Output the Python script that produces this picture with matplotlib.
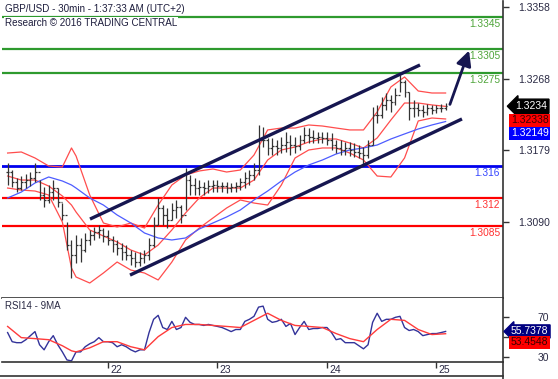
import numpy as np
import matplotlib
matplotlib.use('Agg')
import matplotlib.pyplot as plt
from matplotlib.lines import Line2D
from matplotlib.transforms import ScaledTranslation

plt.rcParams['font.family'] = ['Liberation Sans', 'DejaVu Sans']

# hourly bars, bar 0 = 21st 02:00 (UTC+2)
high = [1.31632, 1.31544, 1.31444, 1.31469, 1.31494, 1.31519, 1.31632, 1.31419, 1.31332, 1.31357,
        1.31419, 1.31319, 1.31132, 1.30895, 1.30671, 1.30733, 1.30696, 1.30758, 1.30796, 1.30833,
        1.30858, 1.30820, 1.30796, 1.30721, 1.30671, 1.30633, 1.30608, 1.30546, 1.30521, 1.30521,
        1.30546, 1.30696, 1.30958, 1.31195, 1.31107, 1.31070, 1.31132, 1.31170, 1.31107, 1.31569,
        1.31482, 1.31444, 1.31419, 1.31394, 1.31419, 1.31419, 1.31419, 1.31394, 1.31394, 1.31382,
        1.31394, 1.31444, 1.31519, 1.31544, 1.31632, 1.32106, 1.32081, 1.31944, 1.31944, 1.31919,
        1.31956, 1.32019, 1.31981, 1.31956, 1.31981, 1.32081, 1.32068, 1.32044, 1.32019, 1.32019,
        1.32019, 1.32006, 1.31919, 1.31919, 1.31894, 1.31894, 1.31881, 1.31856, 1.31831, 1.31919,
        1.32331, 1.32356, 1.32455, 1.32505, 1.32480, 1.32568, 1.32730, 1.32668, 1.32518, 1.32418,
        1.32380, 1.32356, 1.32368, 1.32356, 1.32356, 1.32368, 1.32380]
low = [1.31357, 1.31332, 1.31269, 1.31294, 1.31319, 1.31344, 1.31394, 1.31170, 1.31083, 1.31132,
       1.31170, 1.31083, 1.30920, 1.30546, 1.30197, 1.30384, 1.30396, 1.30521, 1.30608, 1.30671,
       1.30696, 1.30646, 1.30608, 1.30521, 1.30484, 1.30421, 1.30421, 1.30359, 1.30334, 1.30346,
       1.30384, 1.30421, 1.30583, 1.30858, 1.30858, 1.30820, 1.30920, 1.30945, 1.30883, 1.31045,
       1.31232, 1.31232, 1.31232, 1.31232, 1.31257, 1.31269, 1.31269, 1.31269, 1.31257, 1.31269,
       1.31269, 1.31294, 1.31319, 1.31357, 1.31419, 1.31482, 1.31831, 1.31731, 1.31731, 1.31731,
       1.31756, 1.31769, 1.31731, 1.31756, 1.31794, 1.31881, 1.31881, 1.31881, 1.31881, 1.31881,
       1.31856, 1.31794, 1.31756, 1.31731, 1.31731, 1.31719, 1.31707, 1.31694, 1.31607, 1.31694,
       1.31856, 1.32131, 1.32193, 1.32293, 1.32268, 1.32356, 1.32518, 1.32455, 1.32168, 1.32206,
       1.32218, 1.32206, 1.32231, 1.32243, 1.32256, 1.32268, 1.32293]
close = [1.31519, 1.31394, 1.31319, 1.31394, 1.31419, 1.31444, 1.31519, 1.31232, 1.31170, 1.31269,
         1.31319, 1.31145, 1.30983, 1.30608, 1.30484, 1.30608, 1.30546, 1.30671, 1.30733, 1.30771,
         1.30796, 1.30721, 1.30671, 1.30621, 1.30571, 1.30521, 1.30484, 1.30446, 1.30396, 1.30446,
         1.30484, 1.30608, 1.30858, 1.31070, 1.30983, 1.30920, 1.31045, 1.31083, 1.30983, 1.31419,
         1.31357, 1.31319, 1.31332, 1.31319, 1.31344, 1.31357, 1.31344, 1.31344, 1.31319, 1.31332,
         1.31344, 1.31394, 1.31444, 1.31482, 1.31544, 1.31919, 1.31919, 1.31819, 1.31844, 1.31819,
         1.31856, 1.31894, 1.31856, 1.31844, 1.31919, 1.31981, 1.31956, 1.31944, 1.31956, 1.31944,
         1.31919, 1.31856, 1.31819, 1.31794, 1.31819, 1.31794, 1.31769, 1.31756, 1.31731, 1.31856,
         1.32231, 1.32231, 1.32356, 1.32418, 1.32393, 1.32480, 1.32643, 1.32518, 1.32318, 1.32318,
         1.32293, 1.32268, 1.32318, 1.32293, 1.32318, 1.32318, 1.3234]

# indicator samples (bar index -> value)
band_idx = [0, 3, 6, 9, 12, 14, 15, 18, 21, 24, 27, 30, 33, 36, 39, 42, 45, 48, 51, 54,
            57, 60, 63, 66, 69, 72, 75, 78, 81, 84, 87, 90, 93, 96]
bb_upper = [1.31756, 1.31769, 1.31694, 1.31594, 1.31582, 1.31819, 1.31719, 1.31232, 1.30883, 1.30833,
            1.30883, 1.30820, 1.31107, 1.31357, 1.31482, 1.31532, 1.31557, 1.31519, 1.31544, 1.31731,
            1.32044, 1.32068, 1.32068, 1.32106, 1.32093, 1.32068, 1.32044, 1.32044, 1.32268, 1.32580,
            1.32705, 1.32530, 1.32505, 1.32505]
bb_mid = [1.31469, 1.31419, 1.31419, 1.31344, 1.31220, 1.31107, 1.31020, 1.30796, 1.30721, 1.30646,
          1.30546, 1.30484, 1.30608, 1.30796, 1.31008, 1.31195, 1.31319, 1.31319, 1.31319, 1.31419,
          1.31669, 1.31794, 1.31831, 1.31894, 1.31931, 1.31931, 1.31881, 1.31819, 1.31944, 1.32168,
          1.32380, 1.32380, 1.32356, 1.32338]
bb_lower = [1.31319, 1.31294, 1.31282, 1.31232, 1.30895, 1.30321, 1.30209, 1.30134, 1.30259, 1.30396,
            1.30296, 1.30259, 1.30172, 1.30396, 1.30671, 1.30820, 1.30945, 1.31070, 1.31170, 1.31132,
            1.31107, 1.31357, 1.31694, 1.31794, 1.31819, 1.31819, 1.31756, 1.31669, 1.31469, 1.31457,
            1.31694, 1.32156, 1.32193, 1.32181]
ma_blue = [1.31195, 1.31269, 1.31382, 1.31457, 1.31407, 1.31357, 1.31319, 1.31195, 1.31107, 1.30983,
           1.30883, 1.30758, 1.30696, 1.30671, 1.30696, 1.30808, 1.30883, 1.30958, 1.31045, 1.31170,
           1.31282, 1.31407, 1.31519, 1.31607, 1.31669, 1.31744, 1.31794, 1.31819, 1.31856, 1.31931,
           1.31994, 1.32056, 1.32106, 1.32149]

rsi = [54.6, 45.4, 44.4, 44.4, 47.4, 51.5, 55.6, 42.3, 37.2, 45.4,
       51.5, 42.3, 35.1, 27.0, 26.0, 35.1, 35.1, 40.3, 43.3, 45.4,
       49.5, 45.4, 45.4, 44.4, 40.3, 42.3, 40.3, 37.2, 35.1, 37.2,
       37.2, 54.6, 68.0, 72.0, 59.7, 57.7, 65.9, 57.7, 59.7, 70.0,
       64.9, 62.8, 62.8, 61.8, 62.8, 61.8, 60.8, 59.7, 57.7, 55.6,
       57.7, 57.7, 65.9, 68.0, 71.0, 80.3, 81.3, 68.0, 64.9, 65.9,
       68.0, 60.8, 63.8, 52.6, 59.7, 65.9, 57.7, 58.7, 58.7, 59.7,
       59.7, 54.6, 47.4, 48.5, 44.4, 44.4, 44.4, 41.3, 38.2, 42.3,
       64.9, 74.1, 65.9, 68.0, 68.0, 70.0, 71.0, 59.7, 56.7, 57.7,
       55.6, 51.5, 52.6, 53.6, 53.6, 54.6, 55.7378]
rsi_ma = [60.8, 49.5, 48.5, 47.4, 41.3, 36.2, 35.1, 39.2, 45.4, 45.4,
          40.3, 37.2, 50.5, 59.7, 62.8, 62.8, 61.8, 60.8, 59.7, 66.9,
          74.1, 66.9, 61.8, 60.8, 59.7, 53.6, 48.5, 45.4, 57.7, 68.0,
          66.9, 57.7, 52.6, 53.4548]

# support / resistance levels
levels = [1.3345, 1.3305, 1.3275, 1.316, 1.312, 1.3085]
level_labels = ['1.3345', '1.3305', '1.3275', '1.316', '1.312', '1.3085']
level_colors = ['#2e9a2e', '#2e9a2e', '#2e9a2e', '#0000ee', '#ff0000', '#ff0000']
level_text_colors = ['#4fa53a', '#4fa53a', '#4fa53a', '#3344ff', '#ff3030', '#ff3030']

# channel lines and arrow (bar index, price)
upper_channel = [(18.06, 1.30932), (90.39, 1.32855)]
lower_channel = [(26.83, 1.30233), (99.59, 1.32181)]
arrow_tail = (96.74, 1.32330)
arrow_head = (101.35, 1.33067)

price_ticks = [1.3090, 1.3179, 1.3268, 1.3358]
day_ticks = [22, 46, 70, 94]
day_labels = ['22', '23', '24', '25']

navy = '#161650'
axis_col = '#333333'

fig = plt.figure(figsize=(5.58, 3.79), dpi=100)
ax = fig.add_axes([2 / 558, 81 / 379, 501 / 558, 297 / 379])
rx = fig.add_axes([2 / 558, 17 / 379, 501 / 558, 64 / 379])

x = np.arange(len(close))
opens = [close[0]] + close[:-1]

# levels
for lv, c in zip(levels, level_colors):
    ax.axhline(lv, color=c, lw=1.6 if c != '#0000ee' else 2.0, zorder=1)
for lv, lab, c in zip(levels, level_labels, level_text_colors):
    ax.annotate(lab, xy=(1, lv), xycoords=ax.get_yaxis_transform(), xytext=(-3, -7),
                textcoords='offset pixels', ha='right', va='center', fontsize=7.3, color=c)

# bands and averages
ax.plot(band_idx, bb_upper, color='#ff4d4d', lw=0.9, zorder=2)
ax.plot(band_idx, bb_lower, color='#ff4d4d', lw=0.9, zorder=2)
ax.plot(band_idx, bb_mid, color='#ff4d4d', lw=0.9, zorder=2)
ax.plot(band_idx, ma_blue, color='#4d5cff', lw=0.9, zorder=2)

# bars
ax.vlines(x, low, high, color='#333333', lw=0.9, zorder=3)
ax.hlines(opens, x - 0.4, x, color='#333333', lw=0.9, zorder=3)
ax.hlines(close, x, x + 0.4, color='#333333', lw=0.9, zorder=3)

# channel
for seg in (upper_channel, lower_channel):
    ax.plot([seg[0][0], seg[1][0]], [seg[0][1], seg[1][1]], color=navy, lw=2.4,
            solid_capstyle='butt', zorder=4)
ax.annotate('', xy=arrow_head, xytext=arrow_tail,
            arrowprops=dict(arrowstyle='-|>,head_length=0.9,head_width=0.45', color=navy, lw=2.0),
            zorder=4)

ax.set_xlim(-1.23, 108.58)
ax.set_ylim(1.29947, 1.33653)
rx.set_xlim(-1.23, 108.58)
rx.set_ylim(24.9, 89.5)

for a in (ax, rx):
    a.spines['left'].set_visible(False)
    a.spines['top'].set_visible(False)
    a.spines['right'].set_color(axis_col)
    a.spines['bottom'].set_color(axis_col)
    a.spines['right'].set_linewidth(1.2)
    a.spines['bottom'].set_linewidth(1.2)
    a.yaxis.tick_right()

ax.set_yticks(price_ticks)
ax.set_yticklabels(['%.4f' % t for t in price_ticks])
ax.tick_params(axis='y', direction='out', length=4, width=1, color=axis_col,
               labelsize=7.5, labelcolor='#2a2a44', pad=7)
ax.tick_params(axis='x', bottom=False, labelbottom=False)

# title
ax.text(0.006, 0.972, 'GBP/USD - 30min - 1:37:33 AM (UTC+2)', transform=ax.transAxes,
        fontsize=7.1, color='#1c1c3c', va='center', ha='left', zorder=6,
        bbox=dict(facecolor='white', edgecolor='none', pad=0.8))
ax.text(0.006, 0.925, 'Research \u00a9 2016 TRADING CENTRAL', transform=ax.transAxes,
        fontsize=7.1, color='#1c1c3c', va='center', ha='left', zorder=6,
        bbox=dict(facecolor='white', edgecolor='none', pad=0.8))

# price tags
ax.annotate('1.3234', xy=(1, close[-1]), xycoords=ax.get_yaxis_transform(), xytext=(12, 0),
            textcoords='offset pixels', ha='left', va='center', fontsize=7.5, color='white',
            bbox=dict(boxstyle='larrow,pad=0.2', fc='black', ec='black'), annotation_clip=False)
ax.annotate('1.32338', xy=(1, close[-1]), xycoords=ax.get_yaxis_transform(), xytext=(8, -14),
            textcoords='offset pixels', ha='left', va='center', fontsize=7.5, color='#3a0000',
            bbox=dict(boxstyle='square,pad=0.15', fc='#ff0000', ec='none'), annotation_clip=False)
ax.annotate('1.32149', xy=(1, close[-1]), xycoords=ax.get_yaxis_transform(), xytext=(8, -27),
            textcoords='offset pixels', ha='left', va='center', fontsize=7.5, color='white',
            bbox=dict(boxstyle='square,pad=0.15', fc='#0000ff', ec='none'), annotation_clip=False)

# RSI panel
rx.plot(x, rsi, color='#33339a', lw=1.0)
rx.plot(band_idx, rsi_ma, color='#ff3b3b', lw=1.0)
rx.text(0.006, 0.88, 'RSI14 - 9MA', transform=rx.transAxes, fontsize=7, color='#2a2a44',
        va='center', ha='left')
rx.set_yticks([30, 50, 70])
rx.set_yticklabels(['30', '', '70'])
rx.tick_params(axis='y', direction='out', length=4, width=1, color=axis_col,
               labelsize=7.5, labelcolor='#2a2a44', pad=29)
for lab in rx.get_yticklabels():
    lab.set_horizontalalignment('right')
rx.annotate('55.7378', xy=(1, rsi[-1]), xycoords=rx.get_yaxis_transform(), xytext=(8, 0),
            textcoords='offset pixels', ha='left', va='center', fontsize=7.5, color='white',
            bbox=dict(boxstyle='larrow,pad=0.15', fc='#000080', ec='#000080'), annotation_clip=False)
rx.annotate('53.4548', xy=(1, rsi[-1]), xycoords=rx.get_yaxis_transform(), xytext=(8, -11),
            textcoords='offset pixels', ha='left', va='center', fontsize=7.5, color='#3a0000',
            bbox=dict(boxstyle='square,pad=0.15', fc='#ff0000', ec='none'), annotation_clip=False)

rx.set_xticks(day_ticks)
rx.set_xticklabels(day_labels)
rx.tick_params(axis='x', direction='out', length=4, width=1, color=axis_col,
               labelsize=7.5, labelcolor='#2a2a44', pad=-2)
for lab in rx.get_xticklabels():
    lab.set_horizontalalignment('left')
    lab.set_transform(lab.get_transform() + ScaledTranslation(2 / 100, 0, fig.dpi_scale_trans))

# bottom frame
fig.add_artist(Line2D([0, 503 / 558], [3 / 379, 3 / 379], color=axis_col, lw=1.2))
fig.add_artist(Line2D([503 / 558, 503 / 558], [0, 17 / 379], color=axis_col, lw=1.2))

fig.savefig('out.png', dpi=100)
